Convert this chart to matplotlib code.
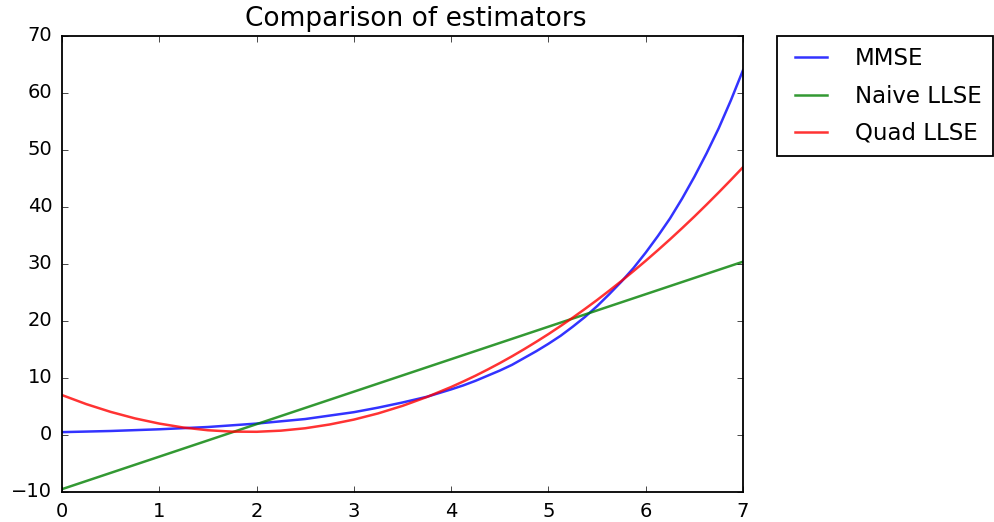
import matplotlib
matplotlib.use("Agg")
import matplotlib.pyplot as plt

plt.style.use("classic")

x_vals = [0, 0.25, 0.5, 0.75, 1, 1.25, 1.5, 1.75, 2, 2.25, 2.5, 2.75, 3, 3.25,
          3.5, 3.75, 4, 4.125, 4.25, 4.375, 4.5, 4.625, 4.75, 4.875, 5, 5.125, 5.25,
          5.375, 5.5, 5.625, 5.75, 5.875, 6, 6.125, 6.25, 6.375, 6.5, 6.625, 6.75, 6.875, 7]
mmse = [0.5, 0.6, 0.7, 0.85, 1.0, 1.2, 1.4, 1.7, 2.0, 2.4, 2.8, 3.4, 4.0, 4.8,
        5.7, 6.7, 8.0, 8.7, 9.5, 10.4, 11.3, 12.3, 13.5, 14.7, 16.0, 17.4, 19.0,
        20.7, 22.6, 24.7, 26.9, 29.3, 32.0, 34.9, 38.0, 41.5, 45.3, 49.4, 53.8, 58.7, 64.0]
quad_llse = [7.0, 5.41, 4.05, 2.91, 2.0, 1.30, 0.83, 0.59, 0.56, 0.76, 1.18, 1.84, 2.70, 3.79,
             5.11, 6.66, 8.42, 9.39, 10.40, 11.48, 12.61, 13.80, 15.05, 16.35, 17.70, 19.12,
             20.58, 22.11, 23.68, 25.32, 27.01, 28.76, 30.56, 32.42, 34.33, 36.30, 38.32,
             40.41, 42.55, 44.74, 46.98]
x_lin = [0, 1, 2, 3, 4, 5, 6, 7]
naive_llse = [-9.5, -3.8, 1.9, 7.6, 13.3, 19.0, 24.7, 30.4]

labels = ["MMSE", "Naive LLSE", "Quad LLSE"]
title = "Comparison of estimators"

plt.rcParams["axes.linewidth"] = 1.3

fig = plt.figure(figsize=(9.94, 5.22), dpi=100, facecolor="white")
ax = fig.add_axes([0.0624, 0.0575, 0.6851, 0.8736])
ax.plot(x_vals, mmse, color="b", alpha=0.8, lw=1.8, label=labels[0])
ax.plot(x_lin, naive_llse, color="g", alpha=0.8, lw=1.8, label=labels[1])
ax.plot(x_vals, quad_llse, color="r", alpha=0.8, lw=1.8, label=labels[2])
ax.set_xlim(0, 7)
ax.set_ylim(-10, 70)
ax.set_title(title, fontsize=19, pad=7, x=0.52)
ax.tick_params(labelsize=14, pad=7)
leg = ax.legend(bbox_to_anchor=(1.05, 1), loc=2, borderaxespad=0.0, fontsize=16.5,
                borderpad=0.5, labelspacing=0.62, handletextpad=0.9)
leg.get_frame().set_linewidth(1.3)
fig.savefig("out.png", dpi=100, facecolor="white")
